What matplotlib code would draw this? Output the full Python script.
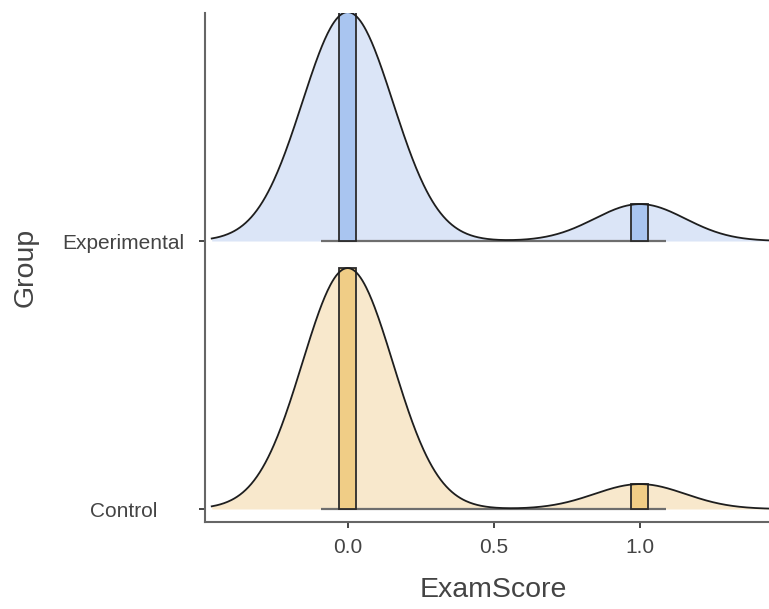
import numpy as np
import matplotlib
matplotlib.use("Agg")
import matplotlib.pyplot as plt

plt.rcParams['font.family'] = ['Liberation Sans', 'DejaVu Sans']

# data: exam score is 0/1, counts per group (read from the bump heights)
groups = ['Control', 'Experimental']
score_values = [0.0, 1.0]
counts_zero = [29, 31]
counts_one = [3, 5]
bandwidth = 0.155
bar_width = 0.058
range_line = [-0.09, 1.09]

dens_fill = ['#f8e8cc', '#dbe5f7']
bar_fill = ['#f0cd86', '#a9c5f0']

xgrid = np.linspace(-3 * bandwidth, 1 + 3 * bandwidth, 600)


def kde(x, n0, n1, h):
    n = n0 + n1
    g0 = np.exp(-0.5 * ((x - score_values[0]) / h) ** 2)
    g1 = np.exp(-0.5 * ((x - score_values[1]) / h) ** 2)
    return (n0 * g0 + n1 * g1) / (n * h * np.sqrt(2 * np.pi))


dens = [kde(xgrid, counts_zero[i], counts_one[i], bandwidth) for i in range(len(groups))]
scale = 0.899 / max(d.max() for d in dens)

fig = plt.figure(figsize=(7.69, 6.09), dpi=100)
ax = fig.add_axes([205 / 769, 87 / 609, 577 / 769, 509.3 / 609])

for i, g in enumerate(groups):
    base = i
    y = base + dens[i] * scale
    ax.fill_between(xgrid, base, y, color=dens_fill[i], lw=0, zorder=1 + i * 5)
    ax.plot(range_line, [base, base], color='#6e6e6e', lw=1.6, zorder=2 + i * 5,
            solid_capstyle='butt')
    heights = kde(np.array(score_values), counts_zero[i], counts_one[i], bandwidth) * scale
    ax.bar(score_values, heights, width=bar_width, bottom=base, color=bar_fill[i],
           edgecolor='#2b2b2b', linewidth=1.3, zorder=3 + i * 5)
    ax.plot(xgrid, y, color='#1e1e1e', lw=1.3, zorder=4 + i * 5)

ax.set_xlim(-0.488, 1.486)
ax.set_ylim(-0.0485, 1.852)

ax.set_xticks([0.0, 0.5, 1.0])
ax.set_xticklabels(['0.0', '0.5', '1.0'])
ax.set_yticks([0, 1])
ax.set_yticklabels(groups, ha='center')

for s in ['top', 'right']:
    ax.spines[s].set_visible(False)
for s in ['left', 'bottom']:
    ax.spines[s].set_color('#666666')
    ax.spines[s].set_linewidth(1.5)

ax.tick_params(axis='x', length=4.5, width=1.4, color='#444444', pad=7,
               labelsize=15, labelcolor='#444444')
ax.tick_params(axis='y', length=4.5, width=1.4, color='#444444', pad=54,
               labelsize=15, labelcolor='#444444')

ax.set_xlabel('ExamScore', fontsize=20.5, color='#444444')
ax.set_ylabel('Group', fontsize=20.5, color='#444444')
ax.xaxis.label.set_va('center')
ax.yaxis.label.set_va('center')
ax.xaxis.set_label_coords(0.5, -0.134)
ax.yaxis.set_label_coords((26 - 205) / 577, 0.5)

fig.savefig('out.png', dpi=100)
